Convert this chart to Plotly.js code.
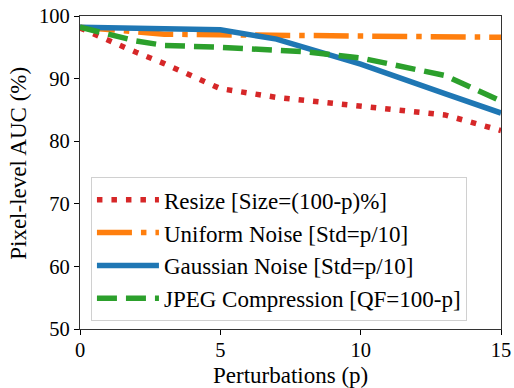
<!DOCTYPE html>
<html><head><meta charset="utf-8">
<script src="https://cdn.plot.ly/plotly-3.0.1.min.js"></script>
<style>html,body{margin:0;padding:0;background:#fff}#chart{width:514px;height:388px}</style>
</head><body><div id="chart"></div>
<script>
const resizeX = [0, 1, 2, 3, 4, 5, 7, 10, 13, 15];
const resizeY = [98.1, 96.1, 94.2, 92.4, 90.3, 88.4, 87.0, 85.7, 84.2, 81.7];
const uniformX = [0, 3, 5, 10, 15];
const uniformY = [98.2, 97.1, 97.0, 96.9, 96.6];
const gaussX = [0, 5, 7, 10, 13, 15];
const gaussY = [98.2, 97.8, 96.3, 92.3, 87.6, 84.5];
const jpegX = [0, 1, 2, 3, 5, 8, 10, 13, 15];
const jpegY = [98.2, 97.0, 96.0, 95.3, 95.0, 94.3, 93.3, 90.5, 86.4];
const names = ["Resize [Size=(100-p)%]", "Uniform Noise [Std=p/10]", "Gaussian Noise [Std=p/10]", "JPEG Compression [QF=100-p]"];
const xTicks = [0, 5, 10, 15];
const yTicks = [50, 60, 70, 80, 90, 100];
const xTitle = "Perturbations (p)";
const yTitle = "Pixel-level AUC (%)";

const W = 5.5;
const traces = [
  {x: resizeX, y: resizeY, name: names[0], mode: "lines", line: {color: "#d62728", width: W, dash: "5.5px,9px"}},
  {x: uniformX, y: uniformY, name: names[1], mode: "lines", line: {color: "#ff7f0e", width: W, dash: "35px,9px,5.5px,9px"}},
  {x: gaussX, y: gaussY, name: names[2], mode: "lines", line: {color: "#1f77b4", width: W}},
  {x: jpegX, y: jpegY, name: names[3], mode: "lines", line: {color: "#2ca02c", width: W, dash: "20px,9px"}}
];
const font = {family: "Liberation Serif", color: "#000"};
const layout = {
  width: 514, height: 388,
  margin: {l: 80, r: 13, t: 15.5, b: 59},
  paper_bgcolor: "#fff", plot_bgcolor: "#fff",
  font: Object.assign({size: 20}, font),
  showlegend: true,
  legend: {x: 0.026, y: 0.485, xanchor: "left", yanchor: "top", bgcolor: "rgba(255,255,255,0.8)",
           bordercolor: "#d0d0d0", borderwidth: 1, font: Object.assign({size: 23}, font),
           tracegroupgap: 0, itemwidth: 62},
  xaxis: {range: [0, 15], tickvals: xTicks, ticktext: xTicks.map(String), ticks: "outside", ticklen: 5,
          tickcolor: "#000", showline: true, linecolor: "#333", linewidth: 1.2, mirror: true, showgrid: false,
          zeroline: false, tickfont: Object.assign({size: 20.5}, font), ticklabelstandoff: -3},
  yaxis: {range: [50, 100], tickvals: yTicks, ticktext: yTicks.map(String), ticks: "outside", ticklen: 5,
          tickcolor: "#000", showline: true, linecolor: "#333", linewidth: 1.2, mirror: true, showgrid: false,
          zeroline: false, tickfont: Object.assign({size: 20.5}, font)},
  annotations: [
    {text: xTitle, xref: "paper", yref: "paper", x: 0.5, y: -0.15, xanchor: "center", yanchor: "middle",
     showarrow: false, font: Object.assign({size: 23}, font)},
    {text: yTitle, xref: "paper", yref: "paper", x: -0.148, y: 0.53, xanchor: "center", yanchor: "middle",
     textangle: -90, showarrow: false, font: Object.assign({size: 23}, font)}
  ]
};
Plotly.newPlot("chart", traces, layout, {displayModeBar: false, staticPlot: true});
</script></body></html>
